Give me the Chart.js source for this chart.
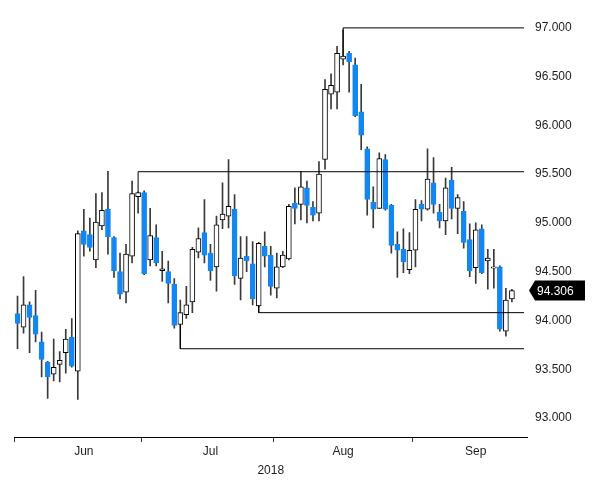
<!DOCTYPE html>
<html>
<head>
<meta charset="utf-8">
<script src="https://cdn.jsdelivr.net/npm/chart.js@4/dist/chart.umd.min.js"></script>
<style>
  html, body { margin: 0; padding: 0; background: #ffffff; }
  #wrap { width: 600px; height: 494px; }
</style>
</head>
<body>
<div id="wrap"><canvas id="c" width="600" height="494"></canvas></div>
<script>
// ---- data ----
const dates = [
  'Jun 1','Jun 4','Jun 5','Jun 6','Jun 7','Jun 8','Jun 11','Jun 12','Jun 13','Jun 14','Jun 15',
  'Jun 18','Jun 19','Jun 20','Jun 21','Jun 22','Jun 25','Jun 26','Jun 27','Jun 28','Jun 29',
  'Jul 2','Jul 3','Jul 4','Jul 5','Jul 6','Jul 9','Jul 10','Jul 11','Jul 12','Jul 13',
  'Jul 16','Jul 17','Jul 18','Jul 19','Jul 20','Jul 23','Jul 24','Jul 25','Jul 26','Jul 27','Jul 30','Jul 31',
  'Aug 1','Aug 2','Aug 3','Aug 6','Aug 7','Aug 8','Aug 9','Aug 10','Aug 13','Aug 14','Aug 15',
  'Aug 16','Aug 17','Aug 20','Aug 21','Aug 22','Aug 23','Aug 24','Aug 27','Aug 28','Aug 29','Aug 30','Aug 31',
  'Sep 3','Sep 4','Sep 5','Sep 6','Sep 7','Sep 10','Sep 11','Sep 12','Sep 13','Sep 14',
  'Sep 17','Sep 18','Sep 19','Sep 20','Sep 21','Sep 24','Sep 25','Sep 26','Sep 27'
];
const opens = [
  94.07,93.93,94.16,94.05,93.78,93.57,93.45,93.55,93.67,93.83,93.48,
  94.92,94.88,94.62,94.97,95.14,94.85,94.50,94.29,94.66,95.27,
  95.31,94.62,94.85,94.51,94.50,94.37,93.96,94.06,94.19,94.70,
  94.90,94.69,94.55,95.03,95.07,95.14,94.43,94.66,94.58,94.15,94.76,94.67,
  94.33,94.55,94.63,95.20,95.19,95.36,95.16,95.10,95.65,96.32,96.34,
  96.68,96.74,96.62,96.14,95.76,95.21,95.15,95.65,95.18,94.78,94.73,94.52,
  94.72,95.19,95.14,95.41,95.11,95.02,95.44,95.15,95.12,94.83,
  94.54,94.94,94.61,94.535,94.55,93.89,94.22
];
const highs = [
  94.25,94.45,94.19,94.31,93.88,93.58,93.81,93.68,93.91,94.02,94.92,
  95.14,95.05,95.30,95.31,95.53,94.86,94.69,94.78,95.43,95.32,
  95.33,95.15,94.98,94.71,94.61,94.43,94.21,94.35,94.75,94.95,
  95.24,94.78,95.07,95.41,95.65,95.29,94.86,94.86,94.81,94.80,94.91,94.76,
  94.69,94.71,95.19,95.36,95.53,95.43,95.22,95.63,96.47,96.53,96.81,
  96.98,96.76,96.69,96.42,95.78,95.37,95.72,95.70,95.19,94.91,94.94,94.90,
  95.24,95.23,95.76,95.67,95.19,95.46,95.57,95.29,95.22,94.99,
  95.00,94.98,94.73,94.73,94.56,94.33,94.32
];
const lows = [
  93.71,93.87,93.67,93.78,93.42,93.20,93.38,93.37,93.46,93.52,93.19,
  94.66,94.71,94.54,94.93,94.68,94.44,94.22,94.18,94.59,95.10,
  94.47,94.56,94.56,94.40,94.18,93.92,93.95,94.02,94.08,94.64,
  94.59,94.41,94.30,94.94,94.95,94.37,94.21,94.50,94.16,94.14,94.55,94.26,
  94.23,94.54,94.62,94.99,95.03,95.00,95.02,95.02,95.55,96.17,96.17,
  96.62,96.34,96.09,95.75,95.08,94.95,95.15,95.13,94.69,94.44,94.49,94.48,
  94.55,95.02,95.13,95.10,94.95,94.88,95.04,94.89,94.74,94.45,
  94.38,94.48,94.32,94.33,93.89,93.84,94.19
];
const closes = [
  93.97,94.16,94.03,93.86,93.60,93.42,93.52,93.59,93.81,93.53,94.89,
  94.78,94.75,95.01,95.13,94.86,94.51,94.27,94.68,95.30,95.31,
  94.48,94.87,94.59,94.53,94.38,93.95,94.08,94.16,94.73,94.84,
  94.67,94.51,94.98,95.09,95.17,94.46,94.64,94.61,94.22,94.79,94.66,94.35,
  94.55,94.67,95.17,95.15,95.37,95.18,95.08,95.50,96.37,96.41,96.74,
  96.71,96.65,96.10,95.90,95.24,95.14,95.66,95.14,94.77,94.72,94.60,94.72,
  95.14,95.14,95.45,95.19,95.02,95.36,95.15,95.26,94.80,94.51,
  94.93,94.49,94.64,94.55,93.91,94.21,94.306
];
const monthNames = ['Jun', 'Jul', 'Aug', 'Sep'];
const monthLabelIndex = [11, 32, 54, 76];
const monthStartIndex = [0, 21, 43, 66];
const yTickValues = [93, 93.5, 94, 94.5, 95, 95.5, 96, 96.5, 97];
const yearLabel = '2018';
const lastPrice = 94.306;
// level lines: [date label, value] pairs
const peakLine = [['Aug 16', 96.71], ['Aug 16', 97.0], ['Sep 27', 97.0]];
const juneHighLine = [['Jun 29', 95.31], ['Jun 29', 95.525], ['Sep 27', 95.525]];
const julyLowLine = [['Jul 27', 94.15], ['Jul 27', 94.08], ['Sep 27', 94.08]];
const juneLowLine = [['Jul 10', 93.95], ['Jul 10', 93.71], ['Sep 27', 93.71]];

// ---- styling ----
const BLUE = '#1386f2';
const FONT = { family: '"Liberation Sans", Arial, sans-serif', size: 12 };
const TXT = '#1e1e1e';

const isUp = opens.map((o, i) => closes[i] >= o);
const wickData = lows.map((l, i) => [l, highs[i]]);
const bodyData = opens.map((o, i) => [Math.min(o, closes[i]), Math.max(o, closes[i])]);
const toXY = arr => arr.map(p => ({ x: p[0], y: p[1] }));

const lineDs = (pts) => ({
  type: 'line', data: toXY(pts), xAxisID: 'x', yAxisID: 'y',
  borderColor: '#000', borderWidth: 1, pointRadius: 0, fill: false, tension: 0, order: 0
});

const priceTag = {
  id: 'priceTag',
  afterDraw(chart) {
    const ctx = chart.ctx;
    const y = chart.scales.y.getPixelForValue(lastPrice);
    const x0 = chart.chartArea.right + 2;
    ctx.save();
    ctx.fillStyle = '#000';
    ctx.beginPath();
    ctx.moveTo(x0, y);
    ctx.lineTo(x0 + 6, y - 10);
    ctx.lineTo(585, y - 10);
    ctx.lineTo(585, y + 10);
    ctx.lineTo(x0 + 6, y + 10);
    ctx.closePath();
    ctx.fill();
    ctx.fillStyle = '#fff';
    ctx.font = FONT.size + 'px ' + FONT.family;
    ctx.textAlign = 'left';
    ctx.textBaseline = 'middle';
    ctx.fillText(lastPrice.toFixed(3), x0 + 8, y + 1);
    ctx.restore();
  }
};

new Chart(document.getElementById('c'), {
  type: 'bar',
  data: {
    labels: dates,
    datasets: [
      lineDs(peakLine), lineDs(juneHighLine), lineDs(julyLowLine), lineDs(juneLowLine),
      {
        type: 'bar', data: bodyData, grouped: false, barThickness: 5, order: 1,
        backgroundColor: isUp.map(u => u ? '#ffffff' : BLUE),
        borderColor: isUp.map(u => u ? '#000000' : BLUE),
        borderWidth: 1, borderSkipped: false
      },
      {
        type: 'bar', data: wickData, grouped: false, barThickness: 1, order: 2,
        backgroundColor: '#3a3a3a', borderWidth: 0
      }
    ]
  },
  plugins: [priceTag],
  options: {
    responsive: false,
    animation: false,
    layout: { padding: { left: 14.5, top: 1, right: 0, bottom: 0 } },
    plugins: { legend: { display: false }, tooltip: { enabled: false } },
    scales: {
      x: {
        type: 'category', offset: true,
        grid: {
          offset: true, drawOnChartArea: false, drawTicks: true, tickLength: 5, lineWidth: 1,
          color: ctx => monthStartIndex.includes(ctx.index) ? '#333' : 'rgba(0,0,0,0)'
        },
        border: { display: true, color: '#000', width: 1 },
        ticks: {
          autoSkip: false, maxRotation: 0, minRotation: 0, padding: 2, font: FONT, color: TXT,
          callback: (v, i) => { const k = monthLabelIndex.indexOf(i); return k >= 0 ? monthNames[k] : ''; }
        },
        title: { display: true, text: yearLabel, font: FONT, color: TXT, padding: { top: 0, bottom: 16 } },
        afterFit: s => { s.height = 57; }
      },
      y: {
        position: 'right', min: 92.805, max: 97.13,
        grid: { display: false, drawTicks: false },
        border: { display: false },
        afterBuildTicks: s => { s.ticks = yTickValues.map(v => ({ value: v })); },
        ticks: { padding: 8, font: FONT, color: TXT, callback: v => Number(v).toFixed(3) },
        afterFit: s => { s.width = 73; }
      }
    }
  }
});
</script>
</body>
</html>
